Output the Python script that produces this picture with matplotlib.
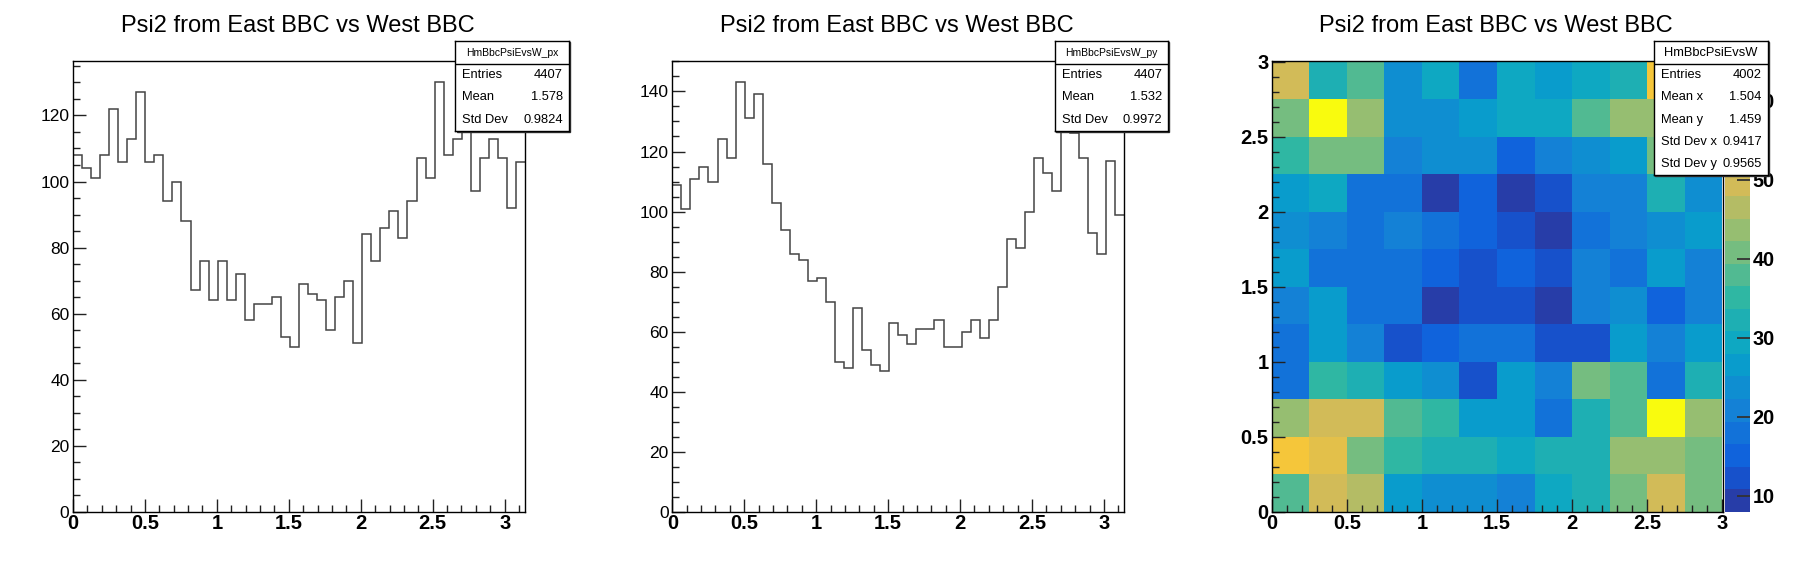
import numpy as np
import matplotlib
matplotlib.use('Agg')
import matplotlib.pyplot as plt
from matplotlib.colors import LinearSegmentedColormap, ListedColormap, Normalize
from matplotlib.patches import Rectangle
from matplotlib.ticker import MultipleLocator

plt.rcParams['font.family'] = ['Liberation Sans', 'DejaVu Sans']

title = 'Psi2 from East BBC vs West BBC'

# 1D projections, 50 bins between 0 and pi
px_counts = [108, 104, 101, 108, 122, 106, 113, 127, 106, 108,
             94, 100, 88, 67, 76, 64, 76, 64, 72, 58,
             63, 63, 65, 53, 50, 69, 66, 64, 55, 65,
             70, 51, 84, 76, 86, 91, 83, 94, 107, 101,
             130, 108, 113, 116, 97, 107, 113, 107, 92, 106]
py_counts = [109, 101, 111, 115, 110, 124, 118, 143, 131, 139,
             116, 103, 94, 86, 84, 77, 78, 70, 50, 48,
             68, 54, 49, 47, 63, 59, 56, 61, 61, 64,
             55, 55, 60, 64, 58, 64, 75, 91, 88, 100,
             118, 113, 107, 131, 126, 118, 93, 86, 117, 99]

# 2D histogram 12x12 between 0 and 3, rows listed from top (y=3) to bottom (y=0)
psi_grid = [
    [49, 32, 38, 24, 29, 18, 29, 26, 29, 32, 55, 41],
    [41, 65, 44, 24, 23, 27, 29, 30, 38, 44, 43, 37],
    [35, 40, 41, 21, 24, 23, 15, 21, 24, 27, 41, 32],
    [27, 29, 18, 17, 9, 15, 8, 12, 21, 20, 32, 24],
    [24, 21, 18, 21, 18, 15, 12, 9, 18, 21, 24, 26],
    [27, 18, 17, 18, 15, 12, 15, 12, 20, 18, 26, 21],
    [21, 26, 18, 19, 10, 12, 11, 9, 21, 24, 15, 20],
    [18, 27, 21, 12, 15, 18, 17, 12, 13, 26, 21, 27],
    [19, 35, 32, 26, 24, 12, 27, 21, 41, 38, 18, 31],
    [44, 49, 48, 38, 35, 27, 26, 18, 33, 37, 64, 44],
    [55, 52, 41, 35, 32, 31, 29, 32, 32, 44, 43, 40],
    [38, 49, 46, 27, 24, 23, 21, 29, 32, 41, 49, 41],
]

# stats boxes
px_stats = ('HmBbcPsiEvsW_px', [('Entries', '4407'), ('Mean', '1.578'), ('Std Dev', '0.9824')])
py_stats = ('HmBbcPsiEvsW_py', [('Entries', '4407'), ('Mean', '1.532'), ('Std Dev', '0.9972')])
xy_stats = ('HmBbcPsiEvsW', [('Entries', '4002'), ('Mean x', '1.504'), ('Mean y', '1.459'),
                             ('Std Dev x', '0.9417'), ('Std Dev y', '0.9565')])

# ROOT kBird palette
bird_stops = [0.0, 0.125, 0.25, 0.375, 0.5, 0.625, 0.75, 0.875, 1.0]
bird_r = [0.2082, 0.0592, 0.0780, 0.0232, 0.1802, 0.5301, 0.8186, 0.9956, 0.9764]
bird_g = [0.1664, 0.3599, 0.5041, 0.6419, 0.7178, 0.7492, 0.7328, 0.7862, 0.9832]
bird_b = [0.5293, 0.8684, 0.8385, 0.7914, 0.6425, 0.4662, 0.3499, 0.1968, 0.0539]
bird = LinearSegmentedColormap.from_list('bird', list(zip(bird_stops, zip(bird_r, bird_g, bird_b))))
contours = ListedColormap([bird((k + 1) / 20) for k in range(20)])

W, H = 1798, 575
pad_w = W / 3
frame_top, frame_bot = 61.0, 511.7


def fig_rect(x0, y_top, x1, y_bot):
    return [x0 / W, 1 - y_bot / H, (x1 - x0) / W, (y_bot - y_top) / H]


fig = plt.figure(figsize=(W / 100, H / 100), dpi=100)


def frame_style(ax, bold_y):
    for s in ax.spines.values():
        s.set_linewidth(1.0)
        s.set_color('black')
    ax.tick_params(which='both', direction='in', top=False, right=False, width=1.0, color='#222222')
    ax.tick_params(which='major', length=9.6)
    ax.tick_params(which='minor', length=4.8)
    ax.tick_params(axis='x', pad=1.5, labelsize=14.5)
    ax.tick_params(axis='y', pad=2.6, labelsize=14.5 if bold_y else 12.5)


def stats_box(x0, y_bot, name, name_size, rows):
    left, right, top = x0 + 455.5, x0 + 569, 41.0
    sx, sy, sw, sh = fig_rect(left + 1, top + 1, right + 1, y_bot + 1)
    fig.add_artist(Rectangle((sx, sy), sw, sh, transform=fig.transFigure, color='#333333', zorder=9))
    bax = fig.add_axes(fig_rect(left, top, right, y_bot), zorder=10)
    bax.set_xlim(left, right)
    bax.set_ylim(y_bot, top)
    bax.set_xticks([])
    bax.set_yticks([])
    for s in bax.spines.values():
        s.set_linewidth(1.0)
    bax.axhline(64, color='black', lw=1.0)
    bax.text((left + right) / 2, 52.6, name, fontsize=name_size, ha='center', va='center')
    for i, (lab, val) in enumerate(rows):
        y = 64 + 22.3 * (i + 0.5)
        bax.text(left + 7, y, lab, fontsize=9.3, ha='left', va='center')
        bax.text(right - 6, y, val, fontsize=9.3, ha='right', va='center')


# two 1D projections
edges = np.linspace(0, np.pi, len(px_counts) + 1)
for i, (counts, stats) in enumerate([(px_counts, px_stats), (py_counts, py_stats)]):
    x0 = i * pad_w
    ax = fig.add_axes(fig_rect(x0 + 73, frame_top, x0 + 525, frame_bot))
    ax.stairs(counts, edges, baseline=None, color='#444444', lw=1.1)
    ax.set_xlim(0, np.pi)
    ax.set_ylim(0, max(counts) * 1.05)
    xt = np.arange(0, 3.01, 0.5)
    ax.set_xticks(xt)
    ax.set_xticklabels([f'{v:g}' for v in xt], fontweight='bold')
    ax.xaxis.set_minor_locator(MultipleLocator(0.1))
    ax.yaxis.set_major_locator(MultipleLocator(20))
    ax.yaxis.set_minor_locator(MultipleLocator(5))
    frame_style(ax, bold_y=False)
    fig.text((x0 + 297.5) / W, 1 - 31.7 / H, title, fontsize=17, ha='center', va='baseline')
    stats_box(x0, 131.0, stats[0], 7.5, stats[1])

# 2D histogram with colz
x0 = 2 * pad_w
ax3 = fig.add_axes(fig_rect(x0 + 73, frame_top, x0 + 524.5, frame_bot))
grid = np.flipud(np.array(psi_grid))
g_edges = np.linspace(0, 3, 13)
zmin, zmax = grid.min(), grid.max()
mesh = ax3.pcolormesh(g_edges, g_edges, grid, cmap=contours, norm=Normalize(zmin, zmax),
                      edgecolors='none', antialiased=False)
ax3.set_xlim(0, 3.005)
ax3.set_ylim(0, 3.005)
t3 = np.arange(0, 3.01, 0.5)
ax3.set_xticks(t3)
ax3.set_xticklabels([f'{v:g}' for v in t3], fontweight='bold')
ax3.set_yticks(t3)
ax3.set_yticklabels([f'{v:g}' for v in t3], fontweight='bold')
ax3.xaxis.set_minor_locator(MultipleLocator(0.1))
ax3.yaxis.set_minor_locator(MultipleLocator(0.1))
frame_style(ax3, bold_y=True)
ax3.tick_params(axis='y', pad=2.2)
fig.text((x0 + 297.5) / W, 1 - 31.7 / H, title, fontsize=17, ha='center', va='baseline')

cax = fig.add_axes(fig_rect(x0 + 526, frame_top, x0 + 551, frame_bot))
cb = fig.colorbar(mesh, cax=cax)
cb.outline.set_visible(False)
cb.minorticks_off()
zt = [10, 20, 30, 40, 50, 60]
cb.set_ticks(zt, labels=[str(v) for v in zt], fontweight='bold')
cax.tick_params(direction='in', length=9.4, width=1.3, color='#333333', pad=2, labelsize=14.3)

# the 2D stats box sits over the top of the colour scale, as in the original
stats_box(x0, 175.0, xy_stats[0], 9.3, xy_stats[1])

fig.savefig('out.png', dpi=100, facecolor='white')
